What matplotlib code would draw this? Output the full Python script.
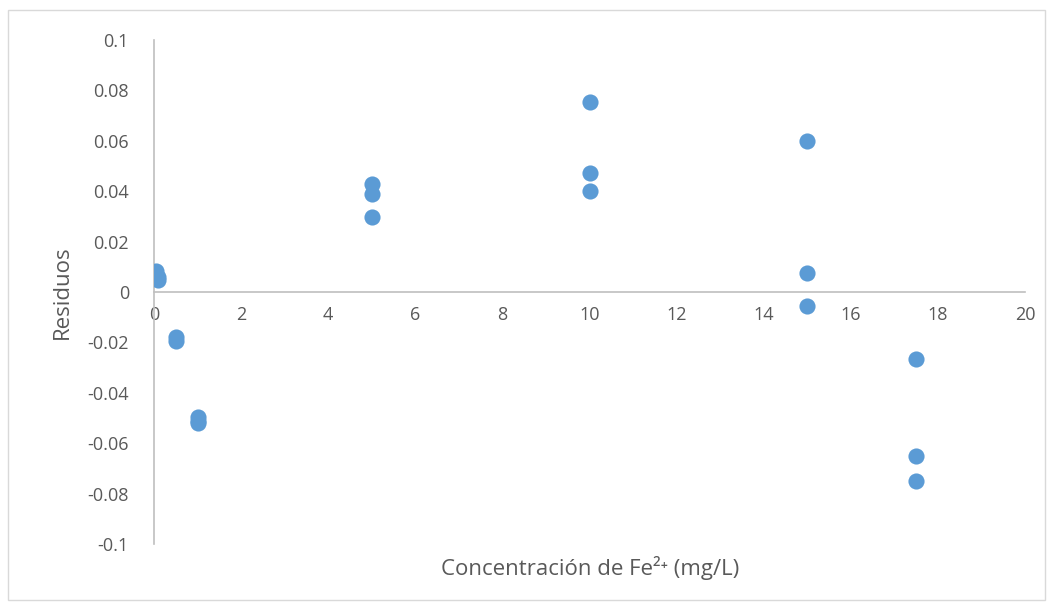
import matplotlib.pyplot as plt
from matplotlib.patches import Rectangle

# Concentration (mg/L) and residuals
conc = [0.05, 0.1, 0.1, 0.5, 0.5, 1, 1, 1, 5, 5, 5, 10, 10, 10, 15, 15, 15, 17.5, 17.5, 17.5]
resid = [0.0085, 0.006, 0.0048, -0.018, -0.0195, -0.0496, -0.0512, -0.052,
         0.0429, 0.0389, 0.0298, 0.0754, 0.0472, 0.0401,
         0.0599, 0.0075, -0.0056, -0.0266, -0.065, -0.075]

xticks = list(range(0, 21, 2))
yticks = [0.1, 0.08, 0.06, 0.04, 0.02, 0, -0.02, -0.04, -0.06, -0.08, -0.1]
ylabels = ["0.1", "0.08", "0.06", "0.04", "0.02", "0", "-0.02", "-0.04", "-0.06", "-0.08", "-0.1"]

plt.rcParams['font.family'] = ['Open Sans', 'DejaVu Sans']
grey = "#595959"

fig = plt.figure(figsize=(10.52, 6.08), dpi=100)
ax = fig.add_axes([154 / 1052, 1 - 544 / 608, (1025 - 154) / 1052, (544 - 40) / 608])

# chart border
fig.patches.append(Rectangle((8 / 1052, 1 - 600 / 608), 1037 / 1052, 590 / 608,
                             transform=fig.transFigure, fill=False,
                             edgecolor="#D9D9D9", linewidth=1))

ax.scatter(conc, resid, s=135, color="#5B9BD5", zorder=3, linewidths=0)

ax.set_xlim(0, 20)
ax.set_ylim(-0.1, 0.1)
ax.spines['left'].set_position(('data', 0))
ax.spines['bottom'].set_position(('data', 0))
ax.spines['right'].set_visible(False)
ax.spines['top'].set_visible(False)
for s in ('left', 'bottom'):
    ax.spines[s].set_color("#BFBFBF")
    ax.spines[s].set_linewidth(1.2)

ax.set_xticks(xticks)
ax.set_xticklabels([str(t) for t in xticks])
ax.set_yticks(yticks)
ax.set_yticklabels(ylabels)
ax.tick_params(axis='both', length=0, labelsize=13, colors=grey)
ax.tick_params(axis='x', pad=10)
ax.tick_params(axis='y', pad=18)

fig.text(62 / 1052, 1 - 292 / 608, "Residuos", rotation=90, ha='center', va='center',
         fontsize=16, color=grey)
fig.text(590 / 1052, 1 - 568 / 608, "Concentración de Fe²⁺ (mg/L)", ha='center',
         va='center', fontsize=16, color=grey)

fig.savefig("out.png", dpi=100)
